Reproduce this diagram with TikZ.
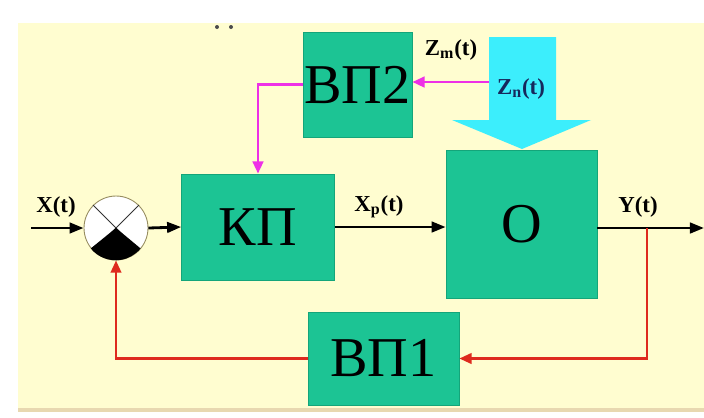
\documentclass[tikz,border=0pt]{standalone}
\usepackage{fontspec}
\setmainfont{Liberation Serif}
\usetikzlibrary{arrows.meta, calc}

\definecolor{bgcream}{RGB}{255,253,208}
\definecolor{bgedge}{RGB}{232,216,176}
\definecolor{boxgreen}{RGB}{28,196,148}
\definecolor{boxedge}{RGB}{20,165,122}
\definecolor{zcyan}{RGB}{60,238,252}
\definecolor{zmagenta}{RGB}{238,48,230}
\definecolor{fbred}{RGB}{222,42,30}
\definecolor{znavy}{RGB}{22,40,92}
\definecolor{ringgray}{RGB}{150,140,95}

\begin{document}
\begin{tikzpicture}[
    x=0.02cm, y=-0.02cm,
    box/.style={
        draw=boxedge,
        fill=boxgreen,
        rectangle,
        inner sep=0pt,
        line width=0.4pt,
        font=\fontsize{32}{32}\selectfont
    },
    sumnode/.style={
        circle,
        draw=ringgray,
        fill=white,
        line width=0.5pt,
        minimum size=1.28cm,
        inner sep=0pt
    },
    sigarrow/.style={
        -{Triangle[length=8pt,width=6pt]},
        line width=1.6pt,
        draw=black
    },
    corrarrow/.style={
        -{Triangle[length=7pt,width=6pt]},
        line width=1.6pt,
        draw=zmagenta
    },
    fbarrow/.style={
        -{Triangle[length=7pt,width=6pt]},
        line width=1.4pt,
        draw=fbred
    },
    siglabel/.style={
        font=\bfseries\fontsize{13}{13}\selectfont,
        text=black,
        inner sep=1pt
    }
]

% canvas
\useasboundingbox (0,0) rectangle (704,417);
\fill[white] (0,0) rectangle (704,417);
\fill[bgcream] (18,23) rectangle (704,408);
\fill[bgedge] (18,408) rectangle (704,412);
\fill[black!70] (217,27) circle[radius=2];
\fill[black!70] (231,27) circle[radius=2];

% disturbance
\fill[zcyan] (489,37) -- (556,37) -- (556,120) -- (591,120)
    -- (522,149) -- (452,120) -- (489,120) -- cycle;

% blocks
\node[box, minimum width=2.18cm, minimum height=2.10cm] (vp2) at (357.5,84.5) {ВП2};
\node[box, minimum width=3.06cm, minimum height=2.12cm] (kp) at (258,227) {КП};
\node[box, minimum width=3.02cm, minimum height=2.96cm] (obj) at (521.5,224) {О};
\node[box, minimum width=3.02cm, minimum height=1.86cm] (vp1) at (383.5,358.5) {ВП1};

\node[sumnode] (sum) at (116,228) {};
\draw[black!80, line width=0.5pt] (sum.135) -- (sum.-45);
\draw[black!80, line width=0.5pt] (sum.45) -- (sum.-135);
\fill[black] (sum.center) -- (sum.-141)
    arc[start angle=-141, end angle=-39, radius=0.64cm] -- cycle;

\coordinate (xin) at (31,228);
\coordinate (ybr) at (647,228);
\coordinate (yout) at (704,228);
\coordinate (zsrc) at (489,82);

% main path
\draw[sigarrow] (xin) -- (sum.west);
\draw[sigarrow] (sum.east) -- (kp.west);
\draw[sigarrow] (kp.east) -- (kp.east -| obj.west);
\draw[sigarrow] (obj.east |- ybr) -- (yout);

% correction by disturbance
\draw[corrarrow] (zsrc) -- (zsrc -| vp2.east);
\draw[corrarrow] (vp2.west) -| (kp.north);

% feedback
\draw[fbarrow] (ybr) |- (vp1.east);
\draw[fbarrow] (vp1.west) -| (sum.south);

\node[siglabel] (xlab) at (56,207) {X(t)};
\node[siglabel] (xplab) at (379,207) {X\textsubscript{p}(t)};
\node[siglabel] (ylab) at (638,207) {Y(t)};
\node[siglabel] (zmlab) at (451,50) {Z\textsubscript{m}(t)};
\node[siglabel, text=znavy] (znlab) at (521,89) {Z\textsubscript{n}(t)};

\end{tikzpicture}
\end{document}
